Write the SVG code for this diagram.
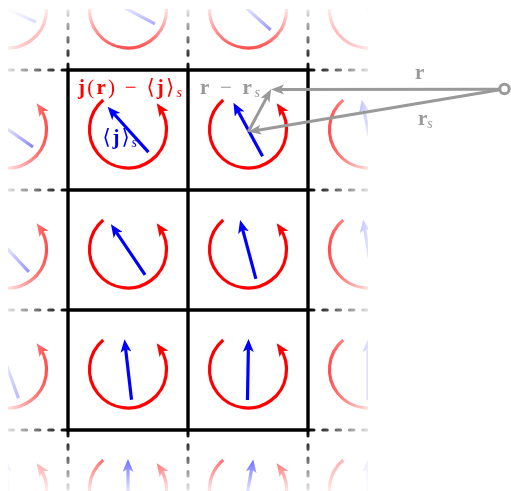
<svg xmlns="http://www.w3.org/2000/svg" width="511" height="491" viewBox="0 0 511 491">
<style>
.grid{stroke:#000;stroke-width:3.4;fill:none;stroke-linecap:square}
.dash{stroke:#000;stroke-width:3;fill:none;stroke-dasharray:4.5 8.8;stroke-dashoffset:11.8;stroke-linecap:round}
.loop{fill:none;stroke:#f00;stroke-width:3.2;marker-end:url(#hr)}
.jvec{fill:none;stroke:#00f;stroke-width:3.2;marker-end:url(#hb)}
.gvec{fill:none;stroke:#999;stroke-width:3;marker-end:url(#hg)}
.lbl{font-family:"Liberation Serif","DejaVu Serif","DejaVu Sans",serif;font-size:21px}
.b{font-weight:bold}
.sub{font-style:italic;font-size:14px}
</style>
<defs>
<marker id="hr" viewBox="0 0 13 11" refX="8" refY="5.5" markerWidth="13" markerHeight="11" markerUnits="userSpaceOnUse" orient="auto"><path d="M13,5.5 L0,0 L3.2,5.5 L0,11 Z" fill="#f00"/></marker>
<marker id="hb" viewBox="0 0 13 11" refX="8" refY="5.5" markerWidth="13" markerHeight="11" markerUnits="userSpaceOnUse" orient="auto"><path d="M13,5.5 L0,0 L3.2,5.5 L0,11 Z" fill="#00f"/></marker>
<marker id="hg" viewBox="0 0 13 11" refX="8" refY="5.5" markerWidth="13" markerHeight="11" markerUnits="userSpaceOnUse" orient="auto"><path d="M13,5.5 L0,0.5 L3.2,5.5 L0,10.5 Z" fill="#999"/></marker>
<linearGradient id="gx" gradientUnits="userSpaceOnUse" x1="0" y1="0" x2="376" y2="0">
<stop offset="0" stop-color="#000"/><stop offset="0.1809" stop-color="#fff"/><stop offset="0.8191" stop-color="#fff"/><stop offset="1" stop-color="#000"/>
</linearGradient>
<linearGradient id="gy" gradientUnits="userSpaceOnUse" x1="0" y1="2" x2="0" y2="498">
<stop offset="0" stop-color="#000"/><stop offset="0.1371" stop-color="#fff"/><stop offset="0.8629" stop-color="#fff"/><stop offset="1" stop-color="#000"/>
</linearGradient>
<mask id="mx" maskUnits="userSpaceOnUse" x="0" y="0" width="511" height="491"><rect x="0" y="0" width="511" height="491" fill="url(#gx)"/></mask>
<mask id="my" maskUnits="userSpaceOnUse" x="0" y="0" width="511" height="491"><rect x="0" y="0" width="511" height="491" fill="url(#gy)"/></mask>
<clipPath id="clip"><rect x="8" y="9" width="360" height="482"/></clipPath>
</defs>
<rect width="511" height="491" fill="#fff"/>

<g clip-path="url(#clip)">
<g mask="url(#mx)">
<g mask="url(#my)">
<g id="dashes">
<path class="dash" d="M68,70H0M68,190H0M68,310H0M68,430H0"/>
<path class="dash" d="M308,70H376M308,190H376M308,310H376M308,430H376"/>
<path class="dash" d="M68,70V0M188,70V0M308,70V0"/>
<path class="dash" d="M68,430V491M188,430V491M308,430V491"/>
</g>
<g id="cell-m1-m1" transform="translate(8,9.5)"><path class="loop" d="M-24.75,-29.49A38.5,38.5 0 1 0 31.54,-22.08"/><path class="jvec" d="M0,30.5V-25.5" transform="rotate(-66)"/></g>
<g id="cell-0-m1" transform="translate(128,9.5)"><path class="loop" d="M-24.75,-29.49A38.5,38.5 0 1 0 31.54,-22.08"/><path class="jvec" d="M0,30.5V-25.5" transform="rotate(-62)"/></g>
<g id="cell-1-m1" transform="translate(248,9.5)"><path class="loop" d="M-24.75,-29.49A38.5,38.5 0 1 0 31.54,-22.08"/><path class="jvec" d="M0,30.5V-25.5" transform="rotate(-48)"/></g>
<g id="cell-2-m1" transform="translate(368,9.5)"><path class="loop" d="M-24.75,-29.49A38.5,38.5 0 1 0 31.54,-22.08"/><path class="jvec" d="M0,30.5V-25.5" transform="rotate(-35)"/></g>
<g id="cell-m1-0" transform="translate(8,129.5)"><path class="loop" d="M-24.75,-29.49A38.5,38.5 0 1 0 31.54,-22.08"/><path class="jvec" d="M0,30.5V-25.5" transform="rotate(-55)"/></g>
<g id="cell-2-0" transform="translate(368,129.5)"><path class="loop" d="M-24.75,-29.49A38.5,38.5 0 1 0 31.54,-22.08"/><path class="jvec" d="M0,30.5V-25.5" transform="rotate(-12)"/></g>
<g id="cell-m1-1" transform="translate(8,249.5)"><path class="loop" d="M-24.75,-29.49A38.5,38.5 0 1 0 31.54,-22.08"/><path class="jvec" d="M0,30.5V-25.5" transform="rotate(-43)"/></g>
<g id="cell-2-1" transform="translate(368,249.5)"><path class="loop" d="M-24.75,-29.49A38.5,38.5 0 1 0 31.54,-22.08"/><path class="jvec" d="M0,30.5V-25.5" transform="rotate(-9)"/></g>
<g id="cell-m1-2" transform="translate(8,369.5)"><path class="loop" d="M-24.75,-29.49A38.5,38.5 0 1 0 31.54,-22.08"/><path class="jvec" d="M0,30.5V-25.5" transform="rotate(-20)"/></g>
<g id="cell-2-2" transform="translate(368,369.5)"><path class="loop" d="M-24.75,-29.49A38.5,38.5 0 1 0 31.54,-22.08"/><path class="jvec" d="M0,30.5V-25.5"/></g>
<g id="cell-m1-3" transform="translate(8,489.5)"><path class="loop" d="M-24.75,-29.49A38.5,38.5 0 1 0 31.54,-22.08"/><path class="jvec" d="M0,30.5V-25.5" transform="rotate(-5)"/></g>
<g id="cell-0-3" transform="translate(128,489.5)"><path class="loop" d="M-24.75,-29.49A38.5,38.5 0 1 0 31.54,-22.08"/><path class="jvec" d="M0,30.5V-25.5"/></g>
<g id="cell-1-3" transform="translate(248,489.5)"><path class="loop" d="M-24.75,-29.49A38.5,38.5 0 1 0 31.54,-22.08"/><path class="jvec" d="M0,30.5V-25.5" transform="rotate(10)"/></g>
<g id="cell-2-3" transform="translate(368,489.5)"><path class="loop" d="M-24.75,-29.49A38.5,38.5 0 1 0 31.54,-22.08"/><path class="jvec" d="M0,30.5V-25.5"/></g>
</g>
</g>
</g>

<g id="grid">
<path class="grid" d="M68,70V430M188,70V430M308,70V430M68,70H308M68,190H308M68,310H308M68,430H308"/>
</g>

<g id="cell-0-0" transform="translate(128,129.5)"><path class="loop" d="M-24.75,-29.49A38.5,38.5 0 1 0 31.54,-22.08"/><path class="jvec" d="M0,30.5V-25.5" transform="rotate(-42)"/></g>
<g id="cell-1-0" transform="translate(248,129.5)"><path class="loop" d="M-24.75,-29.49A38.5,38.5 0 1 0 31.54,-22.08"/><path class="jvec" d="M0,30.5V-25.5" transform="rotate(-28.5)"/></g>
<g id="cell-0-1" transform="translate(128,249.5)"><path class="loop" d="M-24.75,-29.49A38.5,38.5 0 1 0 31.54,-22.08"/><path class="jvec" d="M0,30.5V-25.5" transform="rotate(-34)"/></g>
<g id="cell-1-1" transform="translate(248,249.5)"><path class="loop" d="M-24.75,-29.49A38.5,38.5 0 1 0 31.54,-22.08"/><path class="jvec" d="M0,30.5V-25.5" transform="rotate(-15)"/></g>
<g id="cell-0-2" transform="translate(128,369.5)"><path class="loop" d="M-24.75,-29.49A38.5,38.5 0 1 0 31.54,-22.08"/><path class="jvec" d="M0,30.5V-25.5" transform="rotate(-6.6)"/></g>
<g id="cell-1-2" transform="translate(248,369.5)"><path class="loop" d="M-24.75,-29.49A38.5,38.5 0 1 0 31.54,-22.08"/><path class="jvec" d="M0,30.5V-25.5" transform="rotate(1)"/></g>

<g id="labels">
<text class="lbl" x="78" y="93.5" fill="#f00" textLength="104" lengthAdjust="spacing"><tspan class="b">j</tspan>(<tspan class="b">r</tspan>) − ⟨<tspan class="b">j</tspan>⟩<tspan class="sub" dy="3">s</tspan></text>
<text class="lbl" x="102.5" y="143.5" fill="#00f" textLength="34.5" lengthAdjust="spacing">⟨<tspan class="b">j</tspan>⟩<tspan class="sub" dy="3">s</tspan></text>
<text class="lbl" x="200" y="93.5" fill="#999" textLength="60" lengthAdjust="spacing"><tspan class="b">r</tspan> − <tspan class="b">r</tspan><tspan class="sub" dy="3">s</tspan></text>
<text class="lbl b" x="415" y="78.5" fill="#999">r</text>
<text class="lbl" x="418" y="125" fill="#999"><tspan class="b">r</tspan><tspan class="sub" dy="3">s</tspan></text>
</g>

<g id="connectors">
<path class="gvec" d="M499.8,89.2L276,89.5"/>
<path class="gvec" d="M499.86,89.77L253.2,130.9"/>
<path class="gvec" d="M248.3,131.7L268.84,93.41"/>
<circle id="origin" cx="504.5" cy="89" r="4.7" fill="#fff" stroke="#999" stroke-width="3"/>
</g>
</svg>
